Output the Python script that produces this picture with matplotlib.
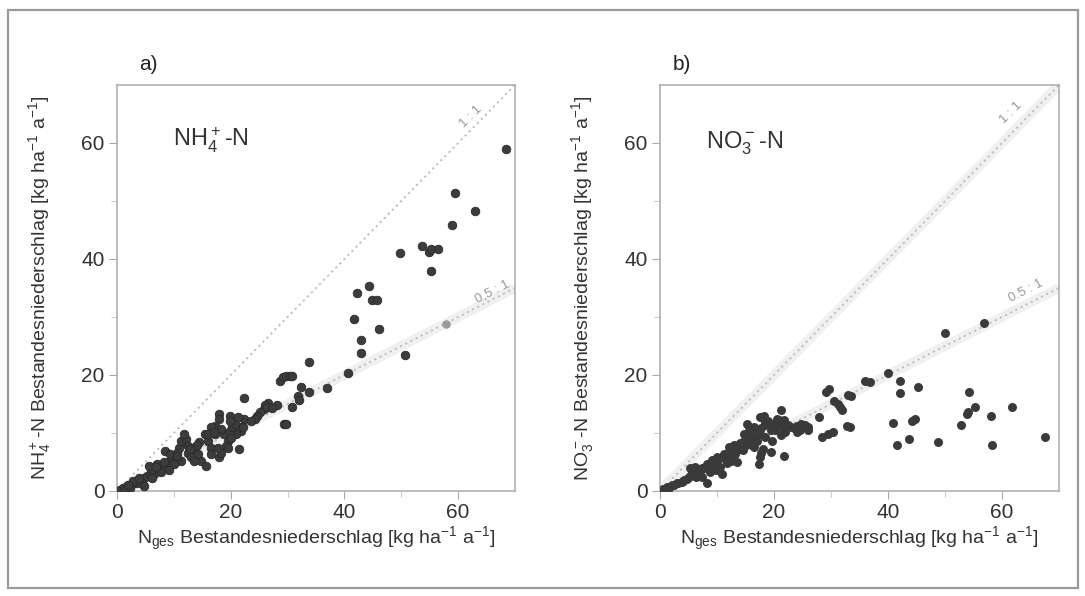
import numpy as np
import matplotlib
matplotlib.use('Agg')
import matplotlib.pyplot as plt
from matplotlib.patches import Rectangle

plt.rcParams['font.family'] = ['Liberation Sans', 'DejaVu Sans']
plt.rcParams['mathtext.default'] = 'regular'

# --- Daten a) NH4-N ---
nh4_x = [68.5, 59.5, 62.9, 59.0, 49.8, 53.7, 54.9, 55.2, 56.4, 55.2, 42.2, 44.4, 44.9, 45.7,
         41.7, 46.0, 42.9, 42.9, 50.7, 40.6, 33.7, 36.9, 33.7, 32.4, 28.6, 29.2, 29.8, 30.4,
         30.8, 31.8, 32.0, 30.8, 29.3, 29.7, 28.1, 22.3,
         26.6, 26.1, 25.8, 25.2, 24.6, 24.3, 26.4, 22.4, 22.0, 21.8, 21.3, 21.0, 21.5, 19.8,
         17.9, 18.0, 17.3, 18.9, 19.5, 19.2, 19.8, 20.2, 20.7, 18.3, 18.0, 18.3, 15.4, 16.0,
         16.6, 17.2, 14.8, 15.7, 14.5, 13.9, 13.3, 12.4, 11.7, 10.9, 11.2, 12.1, 13.0, 14.2,
         8.4, 10.3, 9.4, 8.8, 8.0, 7.1, 6.5, 5.9, 5.3, 4.7, 4.4, 3.5, 2.6, 1.7, 1.1, 0.5, 0.1,
         4.7, 11.2, 10.0, 9.1, 7.7, 12.4, 10.6, 16.6, 16.0, 19.8, 21.3, 22.2, 19.5, 17.7, 16.6,
         13.6, 9.4, 7.1, 6.2, 2.3, 1.4, 2.9, 5.6, 11.8,
         27.2, 23.5, 20.0, 17.0, 14.0, 12.8, 10.5, 8.2, 6.8, 3.8, 1.9]
nh4_y = [59.0, 51.4, 48.2, 45.8, 41.0, 42.3, 41.2, 41.7, 41.7, 37.9, 34.1, 35.3, 32.9, 33.0,
         29.6, 28.0, 26.0, 23.8, 23.4, 20.3, 22.2, 17.7, 17.1, 18.0, 19.0, 19.7, 19.9, 19.9,
         19.8, 16.3, 15.7, 14.5, 11.6, 11.6, 14.9, 16.0,
         15.1, 14.9, 14.1, 13.6, 13.0, 12.4, 14.4, 12.4, 11.0, 10.4, 11.0, 9.8, 7.2, 13.0,
         13.3, 12.4, 11.2, 9.8, 8.7, 7.8, 10.4, 11.0, 11.5, 10.7, 5.8, 6.6, 9.8, 8.7,
         7.5, 9.8, 5.2, 4.3, 8.4, 7.8, 6.9, 6.6, 8.4, 7.5, 8.7, 8.9, 5.8, 6.3,
         6.9, 5.8, 5.2, 4.6, 4.0, 3.5, 2.9, 3.5, 2.6, 2.3, 1.4, 1.4, 1.2, 0.9, 0.6, 0.1, 0.0,
         0.9, 5.2, 4.6, 3.7, 3.2, 7.8, 6.6, 11.0, 9.8, 12.1, 12.7, 11.0, 7.5, 7.5, 6.3,
         5.2, 6.3, 4.6, 2.3, 0.6, 0.35, 1.7, 4.3, 9.8,
         14.3, 12.0, 9.2, 10.2, 8.0, 7.2, 6.0, 5.0, 4.1, 2.2, 1.0]
nh4_grau_x = [57.9]
nh4_grau_y = [28.8]

# --- Daten b) NO3-N ---
no3_x = [56.8, 50.0, 40.0, 42.1, 36.0, 45.3, 42.1, 54.2, 33.0, 55.2, 61.7, 54.0, 53.8, 58.0,
         44.7, 44.2, 40.9, 52.8, 32.8, 43.6, 41.5, 48.8, 58.3, 67.5,
         29.7, 29.1, 33.5, 36.8, 30.6, 31.2, 31.6, 32.0, 27.9, 33.4, 28.5, 29.4, 30.3,
         23.5, 24.1, 24.7, 25.3, 25.9, 24.1, 21.2, 21.8, 21.5, 21.9, 21.2, 21.8, 19.4, 8.2,
         0.0, 0.6, 1.2, 2.1, 2.9, 3.8, 4.7, 5.3, 5.9, 6.8, 7.4, 8.2, 9.1, 10.0, 10.6, 10.9,
         11.2, 12.1, 12.4, 13.5, 13.8, 14.1, 14.7, 15.3, 15.6, 15.9, 16.5, 17.4, 17.6, 17.1,
         17.6, 18.2, 18.8, 18.5, 19.4, 20.0, 20.6, 20.9, 15.6, 13.5, 11.5, 9.4, 7.4, 4.1,
         6.2, 16.5, 19.7,
         1.5, 2.5, 3.2, 4.2, 5.0, 5.5, 6.0, 6.5, 7.0, 7.8, 8.5, 9.0, 9.6, 10.2, 10.8, 11.5,
         12.0, 12.8, 13.2, 14.0, 14.5, 15.0, 15.5, 16.0, 16.8, 17.2, 17.8, 18.5, 19.0, 19.5,
         20.2, 20.5, 21.0, 18.0, 17.8, 16.2, 12.5, 11.8, 9.8, 8.8, 7.0, 6.3, 14.8, 13.0,
         22.0, 22.5, 23.0, 24.5, 25.5, 26.0, 16.2, 15.2, 17.5, 18.3]
no3_y = [28.9, 27.3, 20.3, 18.9, 18.9, 18.0, 16.9, 17.1, 16.6, 14.5, 14.5, 13.6, 13.2, 12.9,
         12.5, 12.1, 11.8, 11.3, 11.2, 8.9, 8.0, 8.5, 7.9, 9.3,
         17.6, 17.1, 16.3, 18.8, 15.6, 15.0, 14.4, 13.9, 12.8, 11.0, 9.3, 9.8, 10.2,
         10.8, 11.2, 11.6, 11.0, 10.6, 10.2, 13.9, 12.2, 11.0, 10.2, 9.6, 6.1, 6.7, 1.4,
         0.0, 0.4, 0.7, 1.0, 1.3, 1.6, 2.1, 3.9, 2.7, 3.0, 3.9, 4.7, 5.3, 5.9, 4.1, 3.0,
         6.4, 7.6, 6.7, 5.0, 7.3, 8.2, 8.7, 9.6, 11.0, 8.4, 7.6, 4.7, 5.9, 8.7,
         9.9, 12.5, 11.3, 9.3, 10.5, 11.6, 11.0, 12.2, 10.2, 7.0, 5.3, 4.1, 2.4, 1.8,
         4.1, 11.0, 8.7,
         0.6, 1.0, 1.4, 1.9, 2.4, 2.7, 3.2, 3.5, 3.6, 4.0, 4.4, 4.8, 5.1, 5.6, 5.8, 6.0,
         6.5, 7.0, 6.3, 7.5, 7.0, 8.0, 8.8, 9.2, 9.5, 10.5, 10.8, 11.8, 12.0, 11.2,
         10.5, 12.4, 11.5, 7.2, 6.5, 8.0, 5.2, 4.8, 3.6, 3.3, 2.8, 2.5, 9.8, 8.0,
         10.8, 11.3, 11.0, 10.5, 11.3, 11.0, 10.8, 11.5, 12.8, 13.0]

ticks = [0, 20, 40, 60]
minor = [10, 30, 50]
ref = np.array([0, 70])

fig = plt.figure(figsize=(10.85, 5.96), dpi=100)
fig.patches.append(Rectangle((8 / 1085, 1 - 588 / 596), 1070 / 1085, 578 / 596,
                             transform=fig.transFigure, fill=False,
                             edgecolor='#9a9a9a', lw=1.6))

ax_a = fig.add_axes([117 / 1085, 1 - 491 / 596, 398 / 1085, 406 / 596])
ax_b = fig.add_axes([660 / 1085, 1 - 491 / 596, 399 / 1085, 406 / 596])


def setup(ax, ylab, band):
    ax.set_xlim(0, 70)
    ax.set_ylim(0, 70)
    ax.set_xticks(ticks)
    ax.set_yticks(ticks)
    ax.set_xticks(minor, minor=True)
    ax.set_yticks(minor, minor=True)
    ax.tick_params(which='major', length=6, width=0.8, color='#aaaaaa',
                   labelsize=15, labelcolor='#333333', pad=3)
    ax.tick_params(which='minor', length=4, width=0.8, color='#cccccc')
    for s in ax.spines.values():
        s.set_color('#b0b0b0')
        s.set_linewidth(1.2)
    ax.set_xlabel('N$_{ges}$ Bestandesniederschlag [kg ha$^{-1}$ a$^{-1}$]',
                  fontsize=14, color='#333333', labelpad=2)
    ax.set_ylabel(ylab, fontsize=14, color='#333333', labelpad=20)
    # 1:1 und 0,5:1 Linien
    if band:
        ax.plot(ref, ref, color='#f0f0f0', lw=7, zorder=1, solid_capstyle='butt')
    ax.plot(ref, ref, color='#bdbdbd', lw=1.3, ls=(0, (1.2, 2)), zorder=1)
    ax.plot(ref, 0.5 * ref, color='#f0f0f0', lw=7, zorder=1, solid_capstyle='butt')
    ax.plot(ref, 0.5 * ref, color='#bdbdbd', lw=1.3, ls=(0, (1.2, 2)), zorder=1)


setup(ax_a, 'NH$_4^+$-N Bestandesniederschlag [kg ha$^{-1}$ a$^{-1}$]', False)
setup(ax_b, 'NO$_3^-$-N Bestandesniederschlag [kg ha$^{-1}$ a$^{-1}$]', True)

ax_a.scatter(nh4_x, nh4_y, s=38, color='#3c3c3c', edgecolor='#2a2a2a', lw=0.6, zorder=3)
ax_a.scatter(nh4_grau_x, nh4_grau_y, s=38, color='#9a9a9a', lw=0, zorder=3)
ax_b.scatter(no3_x, no3_y, s=42, color='#3a3a3a', lw=0, zorder=3)

ax_a.text(62.2, 64.5, '1 : 1', rotation=45, fontsize=9.5, color='#999999',
          ha='center', va='center')
ax_a.text(66.0, 34.3, '0,5 : 1', rotation=27, fontsize=9.5, color='#999999',
          ha='center', va='center')
ax_b.text(61.6, 65.2, '1 : 1', rotation=45, fontsize=9.5, color='#999999',
          ha='center', va='center')
ax_b.text(64.2, 34.4, '0.5 : 1', rotation=27, fontsize=9.5, color='#999999',
          ha='center', va='center')

ax_a.text(9.9, 60.5, 'NH$_4^+$-N', fontsize=17, color='#333333', va='center')
ax_b.text(8.0, 60.0, 'NO$_3^-$-N', fontsize=17, color='#333333', va='center')

fig.text(148 / 1085, 1 - 65 / 596, 'a)', fontsize=15, color='#222222',
         ha='center', va='center')
fig.text(682 / 1085, 1 - 65 / 596, 'b)', fontsize=15, color='#222222',
         ha='center', va='center')

fig.savefig('out.png', dpi=100)
